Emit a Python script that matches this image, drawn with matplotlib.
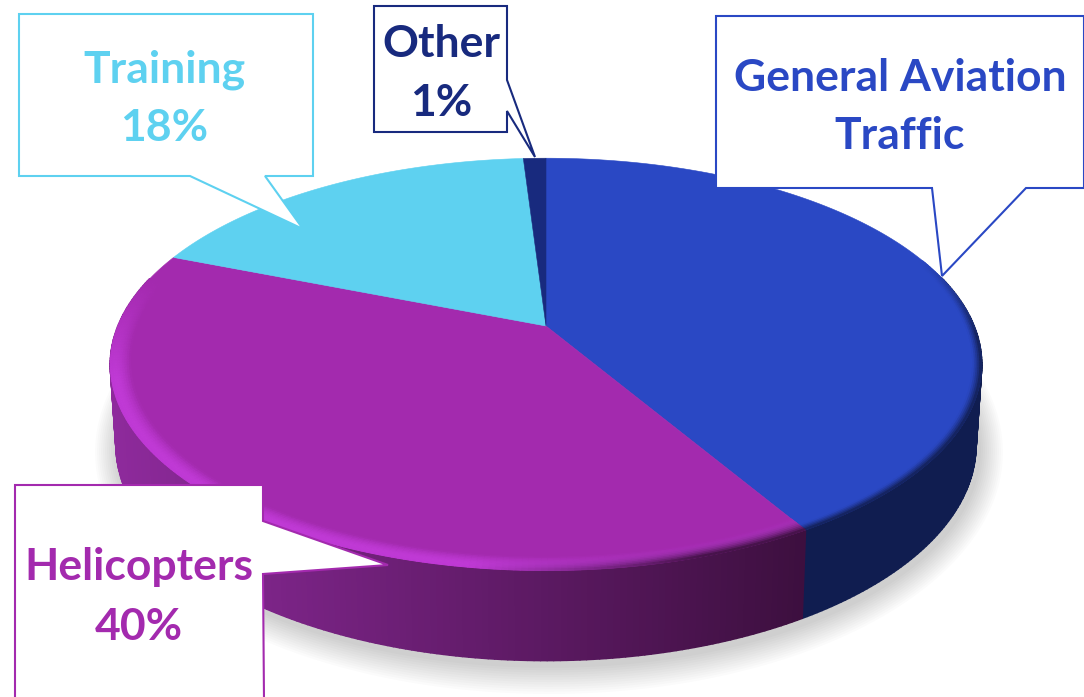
import numpy as np
import matplotlib
matplotlib.use('Agg')
import matplotlib.pyplot as plt
from matplotlib.collections import PolyCollection
from matplotlib.colors import to_rgb

# Chart data
categories = ['General Aviation Traffic', 'Helicopters', 'Training', 'Other']
shares = [41.5, 39.5, 18, 1]
top_colors = ['#2A48C4', '#A32AAE', '#5ED1F0', '#182A7E']
side_left = ['#121F52', '#8E2A9C', '#3A8CA8', '#101C58']
side_right = ['#101D50', '#3C0F3E', '#3A8CA8', '#101C58']
rim_colors = ['#121F52', '#C03AD6', '#5ED1F0', '#182A7E']

label_lines = [['General Aviation', 'Traffic'], ['Helicopters', '40%'], ['Training', '18%'], ['Other', '1%']]
label_x = [900, 139, 164, 441]
label_y = [[78, 136], [567, 627], [70, 128], [44, 103]]

# Callout outlines in figure pixels
callouts = [
    [(716, 16), (1084, 16), (1084, 188), (1026, 188), (942, 276), (932, 188), (716, 188)],
    [(15, 485), (263, 485), (263, 521), (388, 565), (263, 574), (264, 700), (15, 700)],
    [(19, 14), (313, 14), (313, 176), (265, 176), (303, 229), (190, 176), (19, 176)],
    [(374, 6), (507, 6), (507, 80), (535, 157), (507, 111), (507, 132), (374, 132)],
]

# Pie geometry
cx, cy = 546, 326
a, b, k = 428, 199, 0.186


def project(theta, r=1.0):
    u = r * np.sin(theta)
    v = r * np.cos(theta)
    w = 1 + k * v
    return cx + a * u / w, cy - b * v / w


def project_bottom(theta):
    x, y = project(theta)
    return cx + 0.987 * (x - cx), y + 78 - 12 * np.cos(theta)


def mix(c1, c2, t):
    c1, c2 = np.array(to_rgb(c1)), np.array(to_rgb(c2))
    return tuple(c1 + (c2 - c1) * t)


fig = plt.figure(figsize=(10.84, 6.97), dpi=100)
ax = fig.add_axes([0, 0, 1, 1])
ax.set_xlim(0, 1084)
ax.set_ylim(697, 0)
ax.axis('off')

edges = np.radians(np.cumsum([0] + shares) * 3.6)

# Soft shadow round the bottom outline
ring = np.linspace(0, 2 * np.pi, 361)
bx, by = project_bottom(ring)
mx, my = bx.mean(), by.mean()
for grow in np.arange(24, 0, -2):
    sx = mx + (bx - mx) * (1 + grow / 430) + 3
    sy = my + (by - my) * (1 + grow / 200) + 5
    ax.fill(sx, sy, color='black', alpha=0.014, lw=0, zorder=1)

# Side walls
for i in range(len(shares)):
    th = np.linspace(edges[i], edges[i + 1], max(int(shares[i] * 5), 3))
    quads, cols = [], []
    for t0, t1 in zip(th[:-1], th[1:]):
        if np.cos((t0 + t1) / 2) > 0.25:
            continue
        x0, y0 = project(t0)
        x1, y1 = project(t1)
        x2, y2 = project_bottom(t1)
        x3, y3 = project_bottom(t0)
        quads.append([(x0, y0), (x1, y1), (x2, y2), (x3, y3)])
        frac = 1 - (x0 + x1 - 2 * 110) / (2 * 700)
        cols.append(mix(side_right[i], side_left[i], np.clip(frac, 0, 1)))
    if quads:
        ax.add_collection(PolyCollection(quads, facecolors=cols, edgecolors=cols, linewidths=1.3, zorder=2))

# Top faces with a bevel at the rim
for i in range(len(shares)):
    th = np.linspace(edges[i], edges[i + 1], max(int(shares[i] * 5), 3))
    x, y = project(th)
    ax.fill(np.r_[cx, x], np.r_[cy, y], color=top_colors[i], lw=0.4, zorder=3)

    if i > 1:
        continue
    radii = np.linspace(0.955, 1.0, 10) if i == 1 else np.linspace(0.98, 1.0, 6)
    quads, cols = [], []
    for t0, t1 in zip(th[:-1], th[1:]):
        tm = (t0 + t1) / 2
        vm = np.cos(tm)
        um = np.sin(tm)
        if i == 1:
            weight = np.clip((0.25 - vm) / 0.5, 0, 1)
        else:
            weight = np.clip((0.35 - vm) / 0.4, 0, 1)
        if weight == 0:
            continue
        for r0, r1 in zip(radii[:-1], radii[1:]):
            s = (r0 + r1) / 2
            pos = (s - radii[0]) / (radii[-1] - radii[0])
            p0, p1 = project(t0, r0), project(t1, r0)
            p2, p3 = project(t1, r1), project(t0, r1)
            quads.append([p0, p1, p2, p3])
            if i == 1:
                # highlight on the left of the front, dark blur towards the right
                fade = np.clip((um + 0.15) / 0.45, 0, 1)
                lit = mix(top_colors[i], rim_colors[i], weight * np.sin(np.pi * min(pos, 0.97) * 0.62))
                cols.append(mix(lit, side_right[i], fade * pos ** 1.6))
            else:
                cols.append(mix(top_colors[i], rim_colors[i], weight * pos ** 1.3))
    ax.add_collection(PolyCollection(quads, facecolors=cols, edgecolors=cols, linewidths=0.7, zorder=4))

# Callouts and labels
for i in range(len(categories)):
    ax.fill(*zip(*callouts[i]), facecolor='white', edgecolor=top_colors[i], lw=1.5, zorder=5, clip_on=True)
    for line, ty in zip(label_lines[i], label_y[i]):
        ax.text(label_x[i], ty, line, color=top_colors[i], fontsize=32, fontfamily='Lato',
                fontweight='bold', ha='center', va='center', zorder=6)

fig.savefig('out.png', dpi=100)
